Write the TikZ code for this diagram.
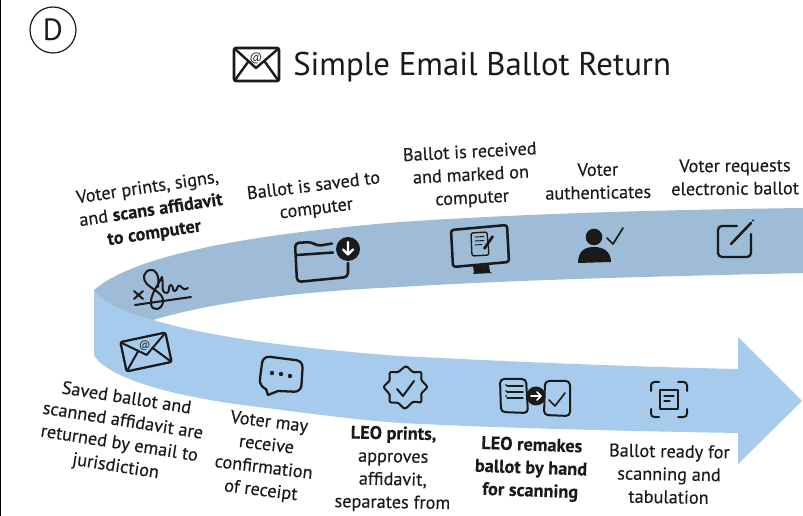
\documentclass[tikz,border=0pt]{standalone}
\usepackage{fontspec}
\setmainfont{PT Sans}
\newfontfamily\lblface[FakeBold=0.2]{PT Sans}
\definecolor{upperband}{HTML}{9EBBD7}
\definecolor{lowerband}{HTML}{A6CBEC}
\definecolor{ink}{HTML}{1A1A1A}
\tikzset{
  lbl/.style={align=center,text=ink,font=\lblface\fontsize{13.7}{17.2}\selectfont,inner sep=0pt},
  ico/.style={draw=ink,line width=1.7pt,line join=round,line cap=round,fill=none},
}
\begin{document}
\begin{tikzpicture}[x=0.75pt,y=-0.75pt]
\useasboundingbox (0,0) rectangle (803,516);
\fill[white] (0,0) rectangle (803,516);
\fill[black] (0,0) rectangle (1.2,516);
% lower band with arrow
\fill[lowerband] (94,290) -- (94,355) .. controls (105,375) and (160,396) .. (267,408) .. controls (320,415) and (360,420) .. (400,423) .. controls (500,428) and (620,431) .. (738,433) -- (738,464) -- (802,401) -- (738,337) -- (738,369) .. controls (600,366) and (480,360) .. (400,356) .. controls (320,350) and (220,340) .. (153,320) -- cycle;
% upper band
\fill[upperband] (803,208) .. controls (650,210) and (520,214) .. (400,222) .. controls (280,232) and (140,250) .. (94,290) .. controls (105,305) and (130,314) .. (153,320) .. controls (220,300) and (310,291) .. (400,287) .. controls (530,279) and (680,276) .. (803,273) -- cycle;
% header
\node[draw=ink,circle,line width=0.9pt,minimum size=34.5pt,inner sep=0pt,font=\fontsize{23}{24}\selectfont,text=ink] (badge) at (53,30) {D};
\node[anchor=base west,inner sep=0pt,font=\fontsize{24.6}{30}\selectfont,text=ink] (title) at (293,76) {Simple Email Ballot Return};
% title envelope
\draw[ico,line width=2pt,rounded corners=1.5pt] (234,48) rectangle (279,81);
\draw[ico,line width=1.8pt] (235,49) -- (256,68) -- (278,49);
\draw[ico,line width=1.8pt] (235,80) -- (248,62) (278,80) -- (265,62);
\node[inner sep=0pt,font=\fontsize{9}{9}\selectfont,text=ink] (titleat) at (256,58) {@};
% upper labels
\node[lbl,rotate=8.5] (u1) at (151,211) {Voter prints, signs,\\and \textbf{scans affidavit}\\\textbf{to computer}};
\node[lbl,rotate=7] (u2) at (315,198) {Ballot is saved to\\computer};
\node[lbl,rotate=3] (u3) at (471,176) {Ballot is received\\and marked on\\computer};
\node[lbl,rotate=1] (u4) at (598,181) {Voter\\authenticates};
\node[lbl,rotate=0.5] (u5) at (735,177) {Voter requests\\electronic ballot};
% lower labels
\node[lbl,rotate=-9] (l1) at (121,433) {Saved ballot and\\scanned affidavit are\\returned by email to\\jurisdiction};
\node[lbl,rotate=-7] (l2) at (265,457) {Voter may\\receive\\confirmation\\of receipt};
\node[lbl,rotate=-1] (l3) at (393,469) {\textbf{LEO prints,}\\approves\\affidavit,\\separates from};
\node[lbl,rotate=-2] (l4) at (531,469) {\textbf{LEO remakes}\\\textbf{ballot by hand}\\\textbf{for scanning}};
\node[lbl,rotate=-1] (l5) at (669,474) {Ballot ready for\\scanning and\\tabulation};
% signature
\draw[ico,line width=1.5pt] (134,291) -- (143,299) (143,291) -- (134,299);
\draw[ico,line width=1.5pt] (135,305) -- (191,297);
\draw[ico,line width=1.5pt] (158,287) .. controls (160,275) and (155,269) .. (151,270) .. controls (144,270) and (141,279) .. (148,285) .. controls (155,291) and (164,294) .. (163,302) .. controls (162,310) and (152,312) .. (151,304) .. controls (150,295) and (158,285) .. (162,277) .. controls (164,288) and (160,292) .. (167,293) .. controls (170,293) and (168,284) .. (171,285) .. controls (174,286) and (172,292) .. (175,291) .. controls (178,290) and (177,284) .. (180,286) .. controls (183,288) and (184,291) .. (188,288);
% folder
\draw[ico,line width=1.9pt,rounded corners=3pt] (348,263) -- (348,277) -- (297,282) -- (295,243) -- (312,242) -- (317,246) -- (332,243.5);
\draw[ico,line width=1.9pt] (297,255) -- (333,252.5);
\fill[ink] (348,249) circle (12);
\draw[white,line width=1.6pt,line cap=round,line join=round] (348,242) -- (348,254) (343,249.5) -- (348,254.5) -- (353,249.5);
% monitor
\draw[ico,line width=1.9pt,rounded corners=2pt] (451,230) -- (507,225) -- (509,262) -- (453,267) -- cycle;
\fill[ink] (473,266) -- (489,265) -- (490,272) -- (492,273) -- (473,274) -- (474,272) -- cycle;
\draw[ico,line width=1pt,rounded corners=1.5pt] (471,233) -- (487,232) -- (489,255) -- (472,256) -- cycle;
\draw[ico,line width=0.7pt] (475,237) -- (484,236.5) (475,241) -- (484,240.5) (475,245) -- (482,244.5);
\draw[ink,line width=2pt] (484,249) -- (493,236);
% person and check
\fill[ink] (594,237) circle (8.3);
\fill[ink] (578,263) .. controls (578,250) and (586,247) .. (594,247) .. controls (604,247) and (611,252) .. (611,262) -- cycle;
\draw[ico,line width=1.3pt] (607,238) -- (613,244) -- (623,228);
% edit icon
\draw[ico,line width=1.7pt,rounded corners=3pt] (737,226) -- (718,226) -- (718,257) -- (751,257) -- (751,234);
\draw[ico,line width=1.9pt] (731,244) -- (751,223);
\fill[ink] (753,220.5) circle (1.2);
% envelope lower
\begin{scope}[shift={(146,352)},rotate=12]
\draw[ico,rounded corners=1.5pt] (-23,-15) rectangle (23,15);
\draw[ico,line width=1.5pt] (-22,-14) -- (0,3) -- (22,-14);
\draw[ico,line width=1.5pt] (-22,14) -- (-7,-3) (22,14) -- (7,-3);
\node[inner sep=0pt,font=\fontsize{8}{8}\selectfont,text=ink] (lowerat) at (0,-6) {@};
\end{scope}
% speech bubble
\draw[ico,rounded corners=5pt] (278,391) -- (301,392) -- (303,361) -- (263,356) -- (259,386) -- (266,389);
\draw[ico] (266,389) -- (268,395) -- (278,391);
\fill[ink] (272,373) circle (2.2) (281,374) circle (2.2) (290,376) circle (2.2);
% badge with check
\draw[ico,line width=1.5pt] plot[smooth cycle,tension=0.5] coordinates {(406,366.5) (413,372) (421,372.5) (421.5,380) (427,387) (421.5,393.5) (421,402) (413,402) (405,408.5) (398,403) (390,402) (389.5,394.5) (384,387) (389.5,380.5) (390,372.5) (398,372)};
\draw[ico,line width=1.5pt] (397,389) -- (403,396) -- (414,381);
% remake icon
\draw[ico,line width=1.5pt,rounded corners=3pt] (500,379) -- (526,379) -- (528,413) -- (501,412) -- cycle;
\draw[ico,line width=1pt] (507,386) -- (523,386) (507,392) -- (523,392) (507,398) -- (523,398);
\fill[ink] (506,385) circle (1) (506,391) circle (1) (506,396) circle (1);
\draw[ico,line width=1.5pt,rounded corners=3pt] (545,381) -- (570,381) -- (570,416) -- (544,415) -- cycle;
\draw[ico,line width=1.2pt] (549,400) -- (555,406) -- (565,393);
\fill[ink] (536,396) circle (9.5);
\draw[white,line width=1.2pt,line cap=round,line join=round] (531,396) -- (541,396) (537,392) -- (541,396) -- (537,400);
% scan icon
\draw[ico,line width=1.5pt,rounded corners=2.5pt] (659,382) -- (651,382) -- (651,391);
\draw[ico,line width=1.5pt,rounded corners=2.5pt] (678,382) -- (687,382) -- (687,391);
\draw[ico,line width=1.5pt,rounded corners=2.5pt] (651,409) -- (651,417) -- (659,417);
\draw[ico,line width=1.5pt,rounded corners=2.5pt] (687,409) -- (687,417) -- (678,417);
\draw[ico,line width=1.2pt] (660,390) rectangle (678,409);
\draw[ico,line width=0.9pt] (664,396) -- (674,396) (664,401) -- (670,401);
\end{tikzpicture}
\end{document}
